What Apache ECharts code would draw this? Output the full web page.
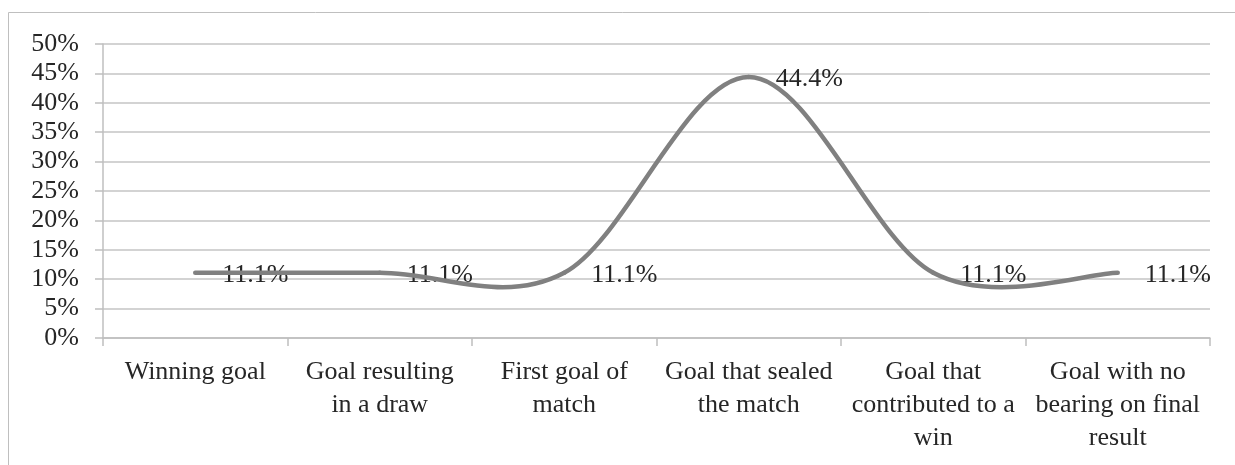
<!DOCTYPE html>
<html><head><meta charset="utf-8">
<script src="https://cdn.jsdelivr.net/npm/echarts@6/dist/echarts.min.js"></script>
<style>html,body{margin:0;padding:0;background:#fff}#c{width:1235px;height:465px}</style>
</head><body><div id="c"></div>
<script>
const categories = ["Winning goal", "Goal resulting\nin a draw", "First goal of\nmatch", "Goal that sealed\nthe match", "Goal that\ncontributed to a\nwin", "Goal with no\nbearing on final\nresult"];
const values = [11.1, 11.1, 11.1, 44.4, 11.1, 11.1];
const yTicks = {min: 0, max: 50, interval: 5};
const font = "'Liberation Serif', 'DejaVu Serif', serif";
const FS = 26;
const chart = echarts.init(document.getElementById('c'));

function renderSeg(params, api) {
  const i = params.dataIndex;
  const n = values.length;
  if (i >= n - 1) return null;
  const P = k => { const c = Math.max(0, Math.min(n - 1, k)); return api.coord([c, values[c]]); };
  const p0 = P(i - 1), p1 = P(i), p2 = P(i + 1), p3 = P(i + 2);
  const t = 1 / 6;
  return {
    type: 'bezierCurve',
    shape: {
      x1: p1[0], y1: p1[1], x2: p2[0], y2: p2[1],
      cpx1: p1[0] + (p2[0] - p0[0]) * t, cpy1: p1[1] + (p2[1] - p0[1]) * t,
      cpx2: p2[0] - (p3[0] - p1[0]) * t, cpy2: p2[1] - (p3[1] - p1[1]) * t
    },
    style: {stroke: '#808080', lineWidth: 4.5, fill: null, lineCap: 'round'}
  };
}

chart.setOption({
  animation: false,
  graphic: [{type: 'rect', shape: {x: 8.5, y: 12.5, width: 1260, height: 480}, style: {fill: 'none', stroke: '#bfbfbf', lineWidth: 1}}],
  grid: {left: 103, right: 25, top: 44, bottom: 127, containLabel: false},
  xAxis: {
    type: 'category', data: categories, boundaryGap: true,
    axisLine: {lineStyle: {color: '#bfbfbf', width: 1.5}},
    axisTick: {show: true, length: 8, alignWithLabel: false, lineStyle: {color: '#bfbfbf', width: 1.5}},
    axisLabel: {interval: 0, margin: 18, color: '#262626', fontFamily: font, fontSize: FS, lineHeight: 33, align: 'center'}
  },
  yAxis: {
    type: 'value', min: yTicks.min, max: yTicks.max, interval: yTicks.interval,
    axisLine: {show: true, lineStyle: {color: '#bfbfbf', width: 1.5}},
    axisTick: {show: true, length: 8, lineStyle: {color: '#bfbfbf', width: 1.5}},
    splitLine: {lineStyle: {color: '#c4c4c4', width: 1.5}},
    axisLabel: {margin: 24, color: '#262626', fontFamily: font, fontSize: FS, formatter: v => v + '%'}
  },
  series: [{
    type: 'scatter', data: values.map((v, i) => [i, v]), symbolSize: 2, itemStyle: {color: 'rgba(0,0,0,0)', opacity: 1}, z: 2,
    label: {show: true, position: 'right', distance: 26, offset: [0, 2], color: '#262626', fontFamily: font, fontSize: FS, formatter: p => p.value[1].toFixed(1) + '%'}
  }, {
    type: 'custom', renderItem: renderSeg,
    data: values.map((v, i) => [i, v]), encode: {x: 0, y: 1}, clip: false, z: 3
  }]
});
</script></body></html>
